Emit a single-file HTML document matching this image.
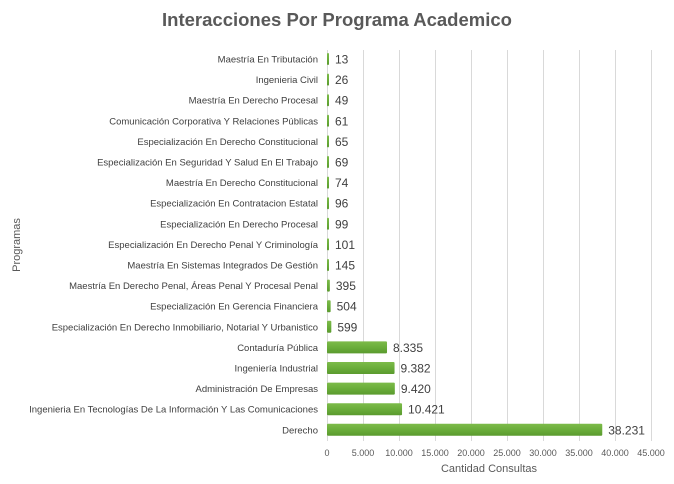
<!DOCTYPE html>
<html><head><meta charset="utf-8"><style>
html,body{margin:0;padding:0;background:#fff}
svg{display:block;font-family:"Liberation Sans",sans-serif}
</style></head><body>
<svg width="674" height="484" viewBox="0 0 674 484">
<defs><linearGradient id="g" x1="0" y1="0" x2="0" y2="1">
<stop offset="0" stop-color="#7dbb4a"/><stop offset="0.5" stop-color="#6aad3a"/><stop offset="1" stop-color="#5a9a2e"/></linearGradient></defs>
<rect width="674" height="484" fill="#fff"/>
<text x="337" y="26" text-anchor="middle" font-size="18.5" font-weight="bold" fill="#595959">Interacciones Por Programa Academico</text>
<g stroke="#d9d9d9" stroke-width="1">
<line x1="327.5" y1="50" x2="327.5" y2="441"/><line x1="363.5" y1="50" x2="363.5" y2="441"/><line x1="399.5" y1="50" x2="399.5" y2="441"/><line x1="435.5" y1="50" x2="435.5" y2="441"/><line x1="471.5" y1="50" x2="471.5" y2="441"/><line x1="507.5" y1="50" x2="507.5" y2="441"/><line x1="543.5" y1="50" x2="543.5" y2="441"/><line x1="579.5" y1="50" x2="579.5" y2="441"/><line x1="615.5" y1="50" x2="615.5" y2="441"/><line x1="651.5" y1="50" x2="651.5" y2="441"/>
</g>
<g font-size="9" fill="#595959" text-anchor="middle">
<text x="327" y="456">0</text><text x="363" y="456">5.000</text><text x="399" y="456">10.000</text><text x="435" y="456">15.000</text><text x="471" y="456">20.000</text><text x="507" y="456">25.000</text><text x="543" y="456">30.000</text><text x="579" y="456">35.000</text><text x="615" y="456">40.000</text><text x="651" y="456">45.000</text>
</g>
<text x="489" y="472" text-anchor="middle" font-size="11" fill="#595959">Cantidad Consultas</text>
<text transform="translate(20,245) rotate(-90)" text-anchor="middle" font-size="11" fill="#595959">Programas</text>
<g id="rows" font-size="9.5" fill="#404040"></g>
</svg>
<script>
var d=[["Maestría En Tributación",13,"13"],["Ingenieria Civil",26,"26"],["Maestría En Derecho Procesal",49,"49"],["Comunicación Corporativa Y Relaciones Públicas",61,"61"],["Especialización En Derecho Constitucional",65,"65"],["Especialización En Seguridad Y Salud En El Trabajo",69,"69"],["Maestría En Derecho Constitucional",74,"74"],["Especialización En Contratacion Estatal",96,"96"],["Especialización En Derecho Procesal",99,"99"],["Especialización En Derecho Penal Y Criminología",101,"101"],["Maestría En Sistemas Integrados De Gestión",145,"145"],["Maestría En Derecho Penal, Áreas Penal Y Procesal Penal",395,"395"],["Especialización En Gerencia Financiera",504,"504"],["Especialización En Derecho Inmobiliario, Notarial Y Urbanistico",599,"599"],["Contaduría Pública",8335,"8.335"],["Ingeniería Industrial",9382,"9.382"],["Administración De Empresas",9420,"9.420"],["Ingenieria En Tecnologías De La Información Y Las Comunicaciones",10421,"10.421"],["Derecho",38231,"38.231"]];
var g=document.getElementById("rows"),s="";
d.forEach(function(r,i){var y=59+i*20.6;var w=Math.max(2,r[1]*0.0072);
s+='<text x="318" y="'+(y+3.5)+'" text-anchor="end">'+r[0]+'</text>';
s+='<rect x="327" y="'+(y-6)+'" width="'+w+'" height="12" rx="1" fill="url(#g)"/>';
s+='<text x="'+(327+w+6)+'" y="'+(y+4.5)+'" font-size="12" fill="#404040">'+r[2]+'</text>';});
g.innerHTML=s;
</script>
</body></html>
